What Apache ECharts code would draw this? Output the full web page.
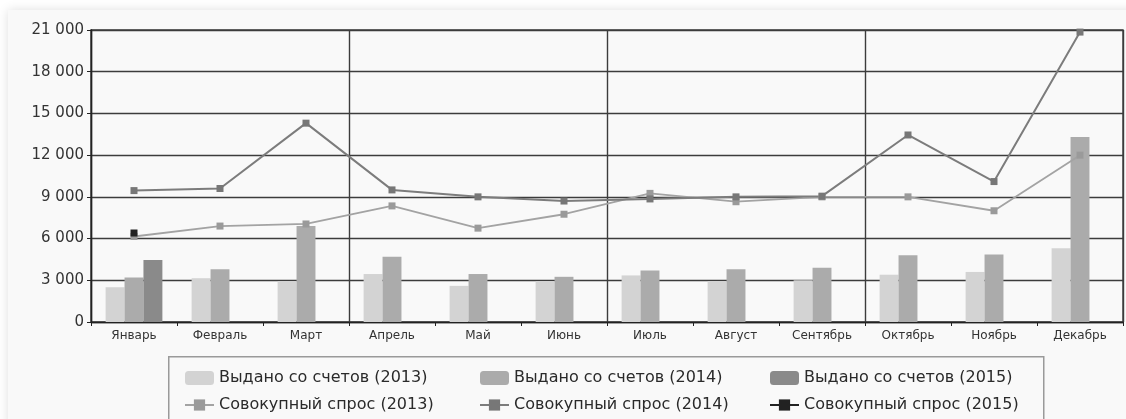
<!DOCTYPE html>
<html>
<head>
<meta charset="utf-8">
<script src="https://cdn.jsdelivr.net/npm/echarts@6/dist/echarts.min.js"></script>
<style>
html,body{margin:0;padding:0;background:#ffffff;width:1126px;height:419px;overflow:hidden;}
#card{position:absolute;left:8px;top:10px;width:1300px;height:600px;background:#f9f9f9;box-shadow:0 0 10px rgba(0,0,0,0.13);}
#chart{position:absolute;left:0;top:0;width:1126px;height:419px;}
</style>
</head>
<body>
<div id="card"></div>
<div id="chart"></div>
<script>
const months = ['Январь','Февраль','Март','Апрель','Май','Июнь','Июль','Август','Сентябрь','Октябрь','Ноябрь','Декабрь'];
const issued2013 = [2500, 3150, 2950, 3450, 2600, 2950, 3350, 2950, 3000, 3400, 3600, 5300];
const issued2014 = [3200, 3800, 6900, 4700, 3450, 3250, 3700, 3800, 3900, 4800, 4850, 13300];
const issued2015 = [4450, null, null, null, null, null, null, null, null, null, null, null];
const demand2013 = [6150, 6900, 7050, 8350, 6750, 7750, 9250, 8650, 9000, 9000, 8000, 12000];
const demand2014 = [9450, 9600, 14300, 9500, 9000, 8700, 8850, 9000, 9050, 13450, 10100, 20850];
const demand2015 = [6400, null, null, null, null, null, null, null, null, null, null, null];
const barNames  = ['Выдано со счетов (2013)','Выдано со счетов (2014)','Выдано со счетов (2015)'];
const lineNames = ['Совокупный спрос (2013)','Совокупный спрос (2014)','Совокупный спрос (2015)'];
const yMin = 0, yMax = 21000, yStep = 3000;

const chart = echarts.init(document.getElementById('chart'), null, {renderer:'canvas'});
const fmt = v => v === 0 ? '0' : String(v).replace(/\B(?=(\d{3})+(?!\d))/g, ' ');
const gridColor = '#3c3c3c';
function bar(name, data, color){
  return {name, type:'bar', data, barGap:'0%', barCategoryGap:'34%',
    itemStyle:{color}, emphasis:{disabled:true}};
}
function line(name, data, color, mcolor, w){
  return {name, type:'line', data, symbol:'rect', symbolSize:7, showAllSymbol:true,
    lineStyle:{color, width:w}, itemStyle:{color:mcolor}, emphasis:{disabled:true}, z:5};
}
const legendCols = [184, 479, 769];
const legends = legendCols.map((x, i) => ({
  show:true, left:x, top:370, orient:'vertical', padding:0, itemGap:11,
  itemWidth:29, itemHeight:14,
  textStyle:{fontFamily:'DejaVu Sans', fontSize:16, color:'#2a2a2a'},
  data:[barNames[i], lineNames[i]]
}));
chart.setOption({
  animation:false,
  backgroundColor:'transparent',
  grid:{left:91, right:3, top:30, bottom:97, containLabel:false, show:true,
    borderColor:gridColor, borderWidth:1.4, backgroundColor:'transparent'},
  xAxis:{type:'category', data:months, boundaryGap:true,
    axisLine:{lineStyle:{color:'#222', width:1.4}},
    axisTick:{show:true, length:4, lineStyle:{color:'#222'}},
    axisLabel:{fontFamily:'DejaVu Sans', fontSize:12, color:'#333', margin:8},
    splitLine:{show:true, interval:2, lineStyle:{color:gridColor, width:1.4}}},
  yAxis:{type:'value', min:yMin, max:yMax, interval:yStep,
    axisLine:{show:true, lineStyle:{color:'#222', width:1.4}},
    axisTick:{show:true, length:4, lineStyle:{color:'#222'}},
    axisLabel:{fontFamily:'DejaVu Sans', fontSize:15, color:'#333', margin:7, formatter:fmt},
    splitLine:{show:true, lineStyle:{color:gridColor, width:1.4}}},
  graphic:[{type:'rect', left:168, top:356, z:-1, silent:true,
    shape:{width:875, height:80},
    style:{fill:'#f9f9f9', stroke:'#9a9a9a', lineWidth:1.5}}],
  legend:legends,
  series:[
    bar(barNames[0], issued2013, '#d3d3d3'),
    bar(barNames[1], issued2014, '#ababab'),
    bar(barNames[2], issued2015, '#8a8a8a'),
    line(lineNames[0], demand2013, '#a3a3a3', '#9a9a9a', 1.8),
    line(lineNames[1], demand2014, '#7c7c7c', '#777777', 2),
    line(lineNames[2], demand2015, '#222222', '#222222', 2)
  ]
});
</script>
</body>
</html>
